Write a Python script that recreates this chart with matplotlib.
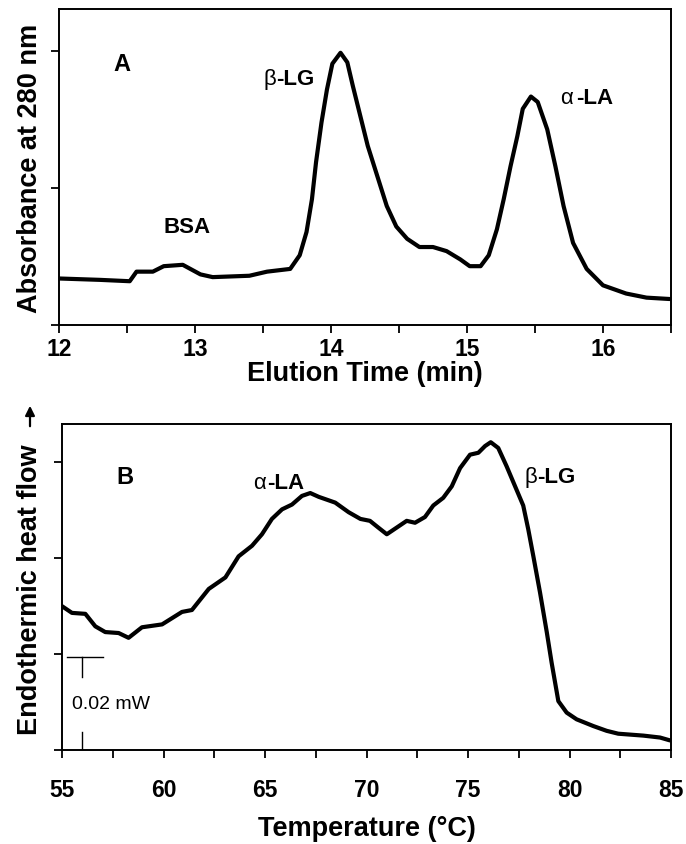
import matplotlib
matplotlib.use('Agg')
import matplotlib.pyplot as plt

plt.rcParams['font.family'] = ['Liberation Sans', 'DejaVu Sans']

# panel A: size-exclusion chromatogram
elution_time = [12.0, 12.3, 12.52, 12.57, 12.69, 12.77, 12.91, 13.04, 13.13, 13.4,
                13.53, 13.70, 13.77, 13.82, 13.86, 13.89, 13.93, 13.97, 14.01, 14.07,
                14.12, 14.16, 14.21, 14.27, 14.34, 14.41, 14.48, 14.56, 14.65, 14.75,
                14.85, 14.95, 15.02, 15.10, 15.16, 15.22, 15.27, 15.32, 15.37, 15.41,
                15.47, 15.52, 15.59, 15.65, 15.71, 15.78, 15.88, 16.0, 16.17, 16.32,
                16.49]
absorbance = [0.34, 0.33, 0.32, 0.39, 0.39, 0.43, 0.44, 0.37, 0.35, 0.36,
              0.39, 0.41, 0.51, 0.68, 0.92, 1.19, 1.48, 1.72, 1.91, 1.99,
              1.92, 1.75, 1.55, 1.31, 1.09, 0.87, 0.72, 0.63, 0.57, 0.57,
              0.54, 0.48, 0.43, 0.43, 0.51, 0.70, 0.92, 1.16, 1.38, 1.58,
              1.67, 1.63, 1.43, 1.16, 0.87, 0.60, 0.41, 0.29, 0.23, 0.20,
              0.19]

# panel B: DSC thermogram
temperature = [55.0, 55.49, 56.15, 56.64, 57.13, 57.79, 58.28, 58.94, 59.93, 60.91,
               61.40, 62.23, 63.05, 63.70, 64.36, 64.85, 65.34, 65.84, 66.33, 66.82,
               67.23, 67.65, 68.46, 69.12, 69.70, 70.17, 70.58, 71.0, 71.49, 71.98,
               72.39, 72.88, 73.29, 73.78, 74.20, 74.61, 75.10, 75.51, 75.84, 76.12,
               76.49, 76.90, 77.32, 77.72, 77.97, 78.22, 78.55, 78.88, 79.12, 79.45,
               79.86, 80.35, 81.17, 81.83, 82.40, 83.64, 84.46, 84.95]
heat_flow = [1.50, 1.43, 1.42, 1.29, 1.23, 1.22, 1.17, 1.28, 1.31, 1.44,
             1.46, 1.68, 1.80, 2.02, 2.13, 2.25, 2.41, 2.51, 2.56, 2.65,
             2.68, 2.64, 2.58, 2.48, 2.41, 2.39, 2.32, 2.25, 2.32, 2.39,
             2.37, 2.43, 2.55, 2.63, 2.75, 2.94, 3.08, 3.10, 3.17, 3.21,
             3.15, 2.96, 2.75, 2.55, 2.30, 2.02, 1.64, 1.23, 0.91, 0.51,
             0.39, 0.32, 0.25, 0.20, 0.17, 0.15, 0.13, 0.10]

W, H = 686, 845
fig = plt.figure(figsize=(W / 100, H / 100), dpi=100)
axA = fig.add_axes([59 / W, 1 - 326 / H, 612 / W, 316 / H])
axB = fig.add_axes([62 / W, 1 - 751 / H, 609 / W, 326 / H])

lw_curve = 3.0
tick_fs = 16.5
label_fs = 19.5
note_fs = 16

for ax in (axA, axB):
    for s in ax.spines.values():
        s.set_linewidth(1.4)
    ax.tick_params(axis='both', direction='out', width=1.3, length=6)
    ax.tick_params(axis='x', labelsize=tick_fs)
    ax.tick_params(axis='y', labelleft=False)

# ---- A
axA.plot(elution_time, absorbance, color='black', lw=lw_curve,
         solid_joinstyle='round', solid_capstyle='round')
axA.set_xlim(12, 16.5)
axA.set_ylim(0, 2.31)
axA.set_xticks([12, 12.5, 13, 13.5, 14, 14.5, 15, 15.5, 16, 16.5])
axA.set_xticklabels(['12', '', '13', '', '14', '', '15', '', '16', ''], fontweight='bold')
axA.tick_params(axis='x', pad=3)
axA.set_yticks([0, 1, 2])
axA.set_xlabel('Elution Time (min)', fontsize=label_fs, fontweight='bold', labelpad=0)
axA.set_ylabel('Absorbance at 280 nm', fontsize=label_fs, fontweight='bold')
axA.yaxis.label.set_va('center')
axA.yaxis.set_label_coords((30 - 59) / 612, 0.5)
axA.text(12.46, 1.91, 'A', fontsize=17, fontweight='bold', ha='center', va='center')
axA.text(13.60, 1.80, '-LG', fontsize=note_fs, fontweight='bold', ha='left', va='center')
axA.text(13.60, 1.80, 'β', fontsize=note_fs, ha='right', va='center')
axA.text(12.94, 0.72, 'BSA', fontsize=note_fs, fontweight='bold', ha='center', va='center')
axA.text(15.80, 1.66, '-LA', fontsize=note_fs, fontweight='bold', ha='left', va='center')
axA.text(15.78, 1.66, 'α', fontsize=note_fs, ha='right', va='center')

# ---- B
axB.plot(temperature, heat_flow, color='black', lw=lw_curve,
         solid_joinstyle='round', solid_capstyle='round')
axB.set_xlim(55, 85)
axB.set_ylim(0, 3.4)
axB.set_xticks([55, 57.5, 60, 62.5, 65, 67.5, 70, 72.5, 75, 77.5, 80, 82.5, 85])
axB.set_xticklabels(['55', '', '60', '', '65', '', '70', '', '75', '', '80', '', '85'],
                    fontweight='bold')
axB.tick_params(axis='x', pad=14)
axB.set_yticks([0, 1, 2, 3])
axB.set_xlabel('Temperature (°C)', fontsize=label_fs, fontweight='bold', labelpad=10)
axB.set_ylabel('Endothermic heat flow', fontsize=label_fs, fontweight='bold')
axB.yaxis.label.set_va('center')
axB.yaxis.set_label_coords((30 - 62) / 609, (751 - 590) / 326)
axB.text(58.1, 2.85, 'B', fontsize=17, fontweight='bold', ha='center', va='center')
axB.text(65.1, 2.79, '-LA', fontsize=note_fs, fontweight='bold', ha='left', va='center')
axB.text(65.05, 2.79, 'α', fontsize=note_fs, ha='right', va='center')
axB.text(78.4, 2.85, '-LG', fontsize=note_fs, fontweight='bold', ha='left', va='center')
axB.text(78.4, 2.85, 'β', fontsize=note_fs, ha='right', va='center')

# arrow at the top of the heat-flow label
fig.patches.append(matplotlib.patches.FancyArrowPatch(
    (30 / W, 1 - 430 / H), (30 / W, 1 - 404 / H), transform=fig.transFigure,
    arrowstyle='-|>', mutation_scale=14, lw=1.6, color='black'))

# scale bar 0.02 mW
axB.plot([55.25, 57.0], [0.97, 0.97], color='black', lw=1.0)
axB.plot([56.0, 56.0], [0.97, 0.76], color='black', lw=1.0)
axB.plot([56.0, 56.0], [0.19, 0.0], color='black', lw=1.0)
axB.text(55.5, 0.48, '0.02 mW', fontsize=14, ha='left', va='center')

fig.savefig('out.png', dpi=100)
